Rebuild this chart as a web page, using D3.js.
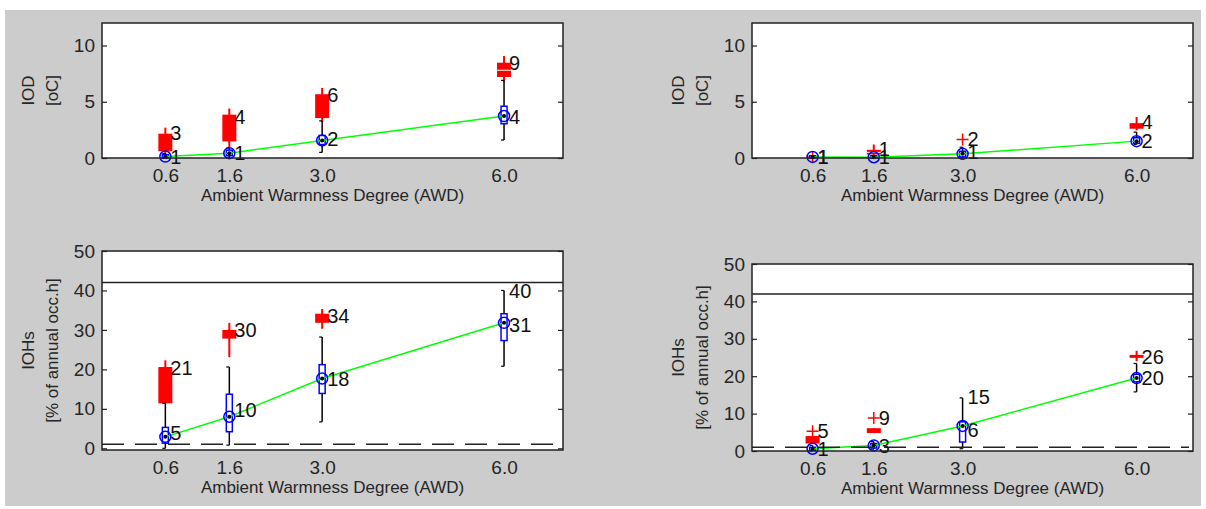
<!DOCTYPE html>
<html>
<head>
<meta charset="utf-8">
<script src="https://cdn.jsdelivr.net/npm/d3@7"></script>
<style>
  body { margin: 0; background: #fff; }
  svg { display: block; font-family: "Liberation Sans", Arial, sans-serif; }
</style>
</head>
<body>
<svg id="chart" width="1206" height="509"></svg>
<script>
// x positions of the four AWD groups and their tick labels
const positions = [0.6, 1.62, 3.1, 6.0];
const xTickLabels = ["0.6", "1.6", "3.0", "6.0"];
const xTitle = "Ambient Warmness Degree (AWD)";

const iodTicks = [0, 5, 10];
const iohTicks = [0, 10, 20, 30, 40, 50];
const iohRefSolid = [42];
const iohRefDashed = [1];

// boxes: [lo, q1, median, q3, hi]  (null median = no median line)
const iodLeftRed = [
  [0.1, 0.6, null, 2.16, 2.7],
  [0.97, 1.47, null, 3.85, 4.4],
  [3.2, 3.55, null, 5.67, 6.23],
  [6.8, 7.2, 7.8, 8.47, 9.06]
];
const iodLeftRedOut = [[], [], [], []];
const iodLeftBlue = [
  [0, 0, 0.13, 0.3, 0.4],
  [0, 0.2, 0.43, 0.7, 0.9],
  [0.5, 1.2, 1.56, 2.0, 3.3],
  [1.6, 3.05, 3.73, 4.6, 6.9]
];
const iodLeftRedLabels = [["3", 2.2], ["4", 3.65], ["6", 5.6], ["9", 8.45]];
const iodLeftBlueLabels = [["1", 0.13], ["1", 0.5], ["2", 1.7], ["4", 3.7]];

const iodRightRed = [
  null,
  [0.1, 0.31, 0.5, 0.73, 1.2],
  null,
  [2.45, 2.6, null, 3.1, 3.64]
];
const iodRightRedOut = [[0.1], [], [1.65], []];
const iodRightBlue = [
  [0, 0, 0.1, 0.2, 0.2],
  [0, 0, 0.07, 0.2, 0.2],
  [0, 0.1, 0.37, 0.6, 0.96],
  [1.2, 1.3, 1.5, 1.8, 2.3]
];
const iodRightRedLabels = [["1", 0.13], ["1", 0.82], ["2", 1.7], ["4", 3.2]];
const iodRightBlueLabels = [["1", 0.13], ["1", 0.07], ["1", 0.52], ["2", 1.56]];

const iohLeftRed = [
  [11.4, 11.4, null, 20.6, 22.3],
  [23.1, 27.8, null, 30.0, 31.8],
  [30.3, 31.8, null, 34.1, 35.3],
  null
];
const iohLeftRedOut = [[], [], [], []];
const iohLeftBlue = [
  [0, 1.3, 2.9, 5.3, 11.4],
  [0.8, 4.2, 8.0, 13.7, 20.6],
  [6.7, 13.9, 17.7, 21.2, 28.2],
  [20.8, 27.3, 31.8, 34.1, 40.0]
];
const iohLeftRedLabels = [["21", 20.5], ["30", 30.1], ["34", 33.7], ["40", 40]];
const iohLeftBlueLabels = [["5", 3.9], ["10", 9.7], ["18", 17.7], ["31", 31.2]];

const iohRightRed = [
  [2.0, 2.0, null, 4.0, 4.0],
  [4.8, 4.8, null, 6.1, 6.1],
  null,
  [24.0, 24.9, null, 25.7, 26.8]
];
const iohRightRedOut = [[5.3], [8.8], [], []];
const iohRightBlue = [
  [0, 0.2, 0.6, 1.0, 1.5],
  [0.5, 0.8, 1.5, 2.0, 2.5],
  [0.6, 2.4, 6.7, 7.8, 14.2],
  [15.8, 18.5, 19.5, 20.5, 23.4]
];
const iohRightRedLabels = [["5", 5.5], ["9", 8.9], ["15", 14.4], ["26", 25.3]];
const iohRightBlueLabels = [["1", 0.6], ["3", 1.5], ["6", 5.8], ["20", 19.5]];

const xDomain = [-0.41, 6.94];
const textColor = "#262626";

const panels = [
  { x0: 102, x1: 563, y0: 23, y1: 158, yDomain: [0, 12], ticks: iodTicks, yTitle: ["IOD", "[oC]"],
    red: iodLeftRed, redOut: iodLeftRedOut, blue: iodLeftBlue,
    redLabels: iodLeftRedLabels, blueLabels: iodLeftBlueLabels, solid: [], dashed: [] },
  { x0: 752, x1: 1193, y0: 23, y1: 158, yDomain: [0, 12], ticks: iodTicks, yTitle: ["IOD", "[oC]"],
    red: iodRightRed, redOut: iodRightRedOut, blue: iodRightBlue,
    redLabels: iodRightRedLabels, blueLabels: iodRightBlueLabels, solid: [], dashed: [] },
  { x0: 102, x1: 563, y0: 251, y1: 450, yDomain: [-0.43, 50], ticks: iohTicks, yTitle: ["IOHs", "[% of annual occ.h]"],
    red: iohLeftRed, redOut: iohLeftRedOut, blue: iohLeftBlue,
    redLabels: iohLeftRedLabels, blueLabels: iohLeftBlueLabels, solid: iohRefSolid, dashed: iohRefDashed },
  { x0: 752, x1: 1193, y0: 264, y1: 451, yDomain: [0, 50], ticks: iohTicks, yTitle: ["IOHs", "[% of annual occ.h]"],
    red: iohRightRed, redOut: iohRightRedOut, blue: iohRightBlue,
    redLabels: iohRightRedLabels, blueLabels: iohRightBlueLabels, solid: iohRefSolid, dashed: iohRefDashed }
];

const svg = d3.select("#chart");

svg.append("rect")
  .attr("x", 5).attr("y", 10)
  .attr("width", 1196).attr("height", 496)
  .attr("fill", "#cccccc");

const drawPanel = (p) => {
  const x = d3.scaleLinear().domain(xDomain).range([p.x0, p.x1]);
  const y = d3.scaleLinear().domain(p.yDomain).range([p.y1, p.y0]);
  const g = svg.append("g");

  g.append("rect")
    .attr("x", p.x0).attr("y", p.y0)
    .attr("width", p.x1 - p.x0).attr("height", p.y1 - p.y0)
    .attr("fill", "#fff");

  // red boxes
  p.red.forEach((b, i) => {
    if (!b) return;
    const cx = x(positions[i]);
    g.append("line")
      .attr("x1", cx).attr("x2", cx)
      .attr("y1", y(b[4])).attr("y2", y(b[0]))
      .attr("stroke", "#ff0000").attr("stroke-width", 2);
    g.append("rect")
      .attr("x", cx - 7).attr("width", 14)
      .attr("y", y(b[3])).attr("height", Math.max(y(b[1]) - y(b[3]), 3))
      .attr("fill", "#ff0000");
    if (b[2] != null) {
      g.append("line")
        .attr("x1", cx - 7).attr("x2", cx + 7)
        .attr("y1", y(b[2])).attr("y2", y(b[2]))
        .attr("stroke", "#fff").attr("stroke-width", 1);
    }
  });

  p.redOut.forEach((outs, i) => {
    const cx = x(positions[i]);
    outs.forEach((v) => {
      g.append("path")
        .attr("d", `M${cx - 6},${y(v)}H${cx + 6}M${cx},${y(v) - 6}V${y(v) + 6}`)
        .attr("stroke", "#ff0000").attr("stroke-width", 1.5).attr("fill", "none");
    });
  });

  // blue boxes with black whiskers
  p.blue.forEach((b, i) => {
    const cx = x(positions[i]);
    g.append("line")
      .attr("x1", cx).attr("x2", cx)
      .attr("y1", y(b[4])).attr("y2", y(b[0]))
      .attr("stroke", "#000").attr("stroke-width", 1.5);
    [b[0], b[4]].forEach((v) => {
      g.append("line")
        .attr("x1", cx - 3).attr("x2", cx)
        .attr("y1", y(v)).attr("y2", y(v))
        .attr("stroke", "#000").attr("stroke-width", 1.2);
    });
    g.append("rect")
      .attr("x", cx - 3).attr("width", 6)
      .attr("y", y(b[3])).attr("height", Math.max(y(b[1]) - y(b[3]), 0))
      .attr("fill", "#fff")
      .attr("stroke", "#0000ff").attr("stroke-width", 1.5);
  });

  // median trend line
  const line = d3.line()
    .x((d, i) => x(positions[i]))
    .y((d) => y(d[2]));
  g.append("path")
    .datum(p.blue)
    .attr("d", line)
    .attr("fill", "none")
    .attr("stroke", "#00ff00")
    .attr("stroke-width", 1.5);

  g.selectAll(".med")
    .data(p.blue)
    .enter()
    .append("circle")
    .attr("cx", (d, i) => x(positions[i]))
    .attr("cy", (d) => y(d[2]))
    .attr("r", 5.5)
    .attr("fill", "none")
    .attr("stroke", "#0000ff")
    .attr("stroke-width", 1.5);

  g.selectAll(".dot")
    .data(p.blue)
    .enter()
    .append("circle")
    .attr("cx", (d, i) => x(positions[i]))
    .attr("cy", (d) => y(d[2]))
    .attr("r", 2)
    .attr("fill", "#000");

  // reference lines
  p.solid.forEach((v) => {
    g.append("line")
      .attr("x1", p.x0).attr("x2", p.x1)
      .attr("y1", y(v)).attr("y2", y(v))
      .attr("stroke", "#222").attr("stroke-width", 1.5);
  });
  p.dashed.forEach((v) => {
    g.append("line")
      .attr("x1", p.x0).attr("x2", p.x1 - 4)
      .attr("y1", y(v)).attr("y2", y(v))
      .attr("stroke", "#222").attr("stroke-width", 1.5)
      .attr("stroke-dasharray", "22,11");
  });

  // value labels
  [p.redLabels, p.blueLabels].forEach((labels) => {
    labels.forEach((l, i) => {
      g.append("text")
        .attr("x", x(positions[i]) + 5)
        .attr("y", y(l[1]))
        .attr("dy", "0.36em")
        .style("font-size", "20px")
        .style("fill", "#111")
        .text(l[0]);
    });
  });

  // axes
  const leftAxis = g.append("g")
    .attr("transform", `translate(${p.x0},0)`)
    .call(d3.axisLeft(y).tickValues(p.ticks).tickSize(-5).tickPadding(7));
  const rightAxis = g.append("g")
    .attr("transform", `translate(${p.x1},0)`)
    .call(d3.axisRight(y).tickValues(p.ticks).tickSize(-5).tickFormat(""));
  const bottomAxis = g.append("g")
    .attr("transform", `translate(0,${p.y1})`)
    .call(d3.axisBottom(x).tickValues(positions).tickSize(0).tickPadding(11)
      .tickFormat((d, i) => xTickLabels[i]));

  [leftAxis, rightAxis, bottomAxis].forEach((a) => {
    a.select(".domain").remove();
    a.selectAll("line").attr("stroke", "#222").attr("stroke-width", 1.2);
    a.selectAll("text")
      .style("font-size", "19px")
      .style("font-family", "'Liberation Sans', Arial, sans-serif")
      .attr("fill", textColor);
  });

  g.append("rect")
    .attr("x", p.x0).attr("y", p.y0)
    .attr("width", p.x1 - p.x0).attr("height", p.y1 - p.y0)
    .attr("fill", "none")
    .attr("stroke", "#222")
    .attr("stroke-width", 1.5);

  g.append("text")
    .attr("x", (p.x0 + p.x1) / 2)
    .attr("y", p.y1 + 43)
    .attr("text-anchor", "middle")
    .style("font-size", "17px")
    .style("fill", textColor)
    .text(xTitle);

  const cy = (p.y0 + p.y1) / 2;
  p.yTitle.forEach((t, k) => {
    const tx = p.x0 - 74 + k * 24;
    g.append("text")
      .attr("transform", `translate(${tx},${cy}) rotate(-90)`)
      .attr("text-anchor", "middle")
      .attr("dy", "0.35em")
      .style("font-size", "17px")
      .style("fill", textColor)
      .text(t);
  });
};

panels.forEach(drawPanel);
</script>
</body>
</html>
